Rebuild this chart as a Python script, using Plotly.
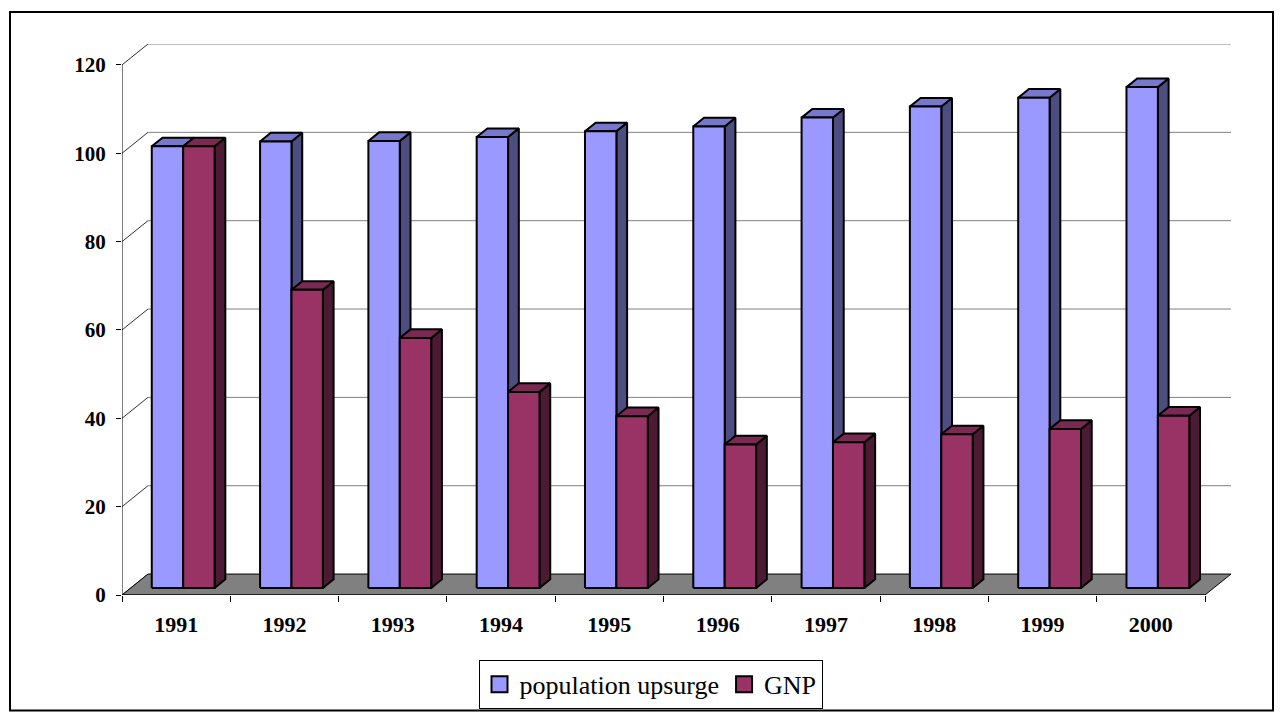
import plotly.graph_objects as go

years = ["1991", "1992", "1993", "1994", "1995", "1996", "1997", "1998", "1999", "2000"]
population_upsurge = [100, 101.1, 101.2, 102.1, 103.4, 104.5, 106.5, 109.0, 111.0, 113.4]
gnp = [100, 67.5, 56.6, 44.4, 38.9, 32.5, 33.0, 34.8, 36.0, 39.0]
y_ticks = [0, 20, 40, 60, 80, 100, 120]

# 3D projection parameters (in axis units)
N = len(years)
DX = 0.24      # depth offset, category units
DY = 4.74      # depth offset, value units
F0, F1 = 0.333, 0.746   # bar front/back as fraction of depth
BW = 0.29      # bar width
CENTER = 0.485

SERIF = "Liberation Serif"

fig = go.Figure()

def add_poly(xs, ys, fill, line_color="black", width=2):
    fig.add_trace(go.Scatter(x=xs, y=ys, mode="lines", fill="toself", fillcolor=fill,
                             line=dict(color=line_color, width=width),
                             hoverinfo="skip", showlegend=False))

def add_line(xs, ys, color, width=1):
    fig.add_trace(go.Scatter(x=xs, y=ys, mode="lines", line=dict(color=color, width=width),
                             hoverinfo="skip", showlegend=False))

# back wall gridlines and left wall diagonals
gx, gy = [], []
for v in y_ticks[1:]:
    gx += [DX, N + DX, None]
    gy += [v + DY, v + DY, None]
add_line(gx, gy, "#808080", 1)
dx_, dy_ = [], []
for v in y_ticks:
    dx_ += [0, DX, None]
    dy_ += [v, v + DY, None]
add_line(dx_, dy_, "#303030", 1)

# floor
add_poly([0, N, N + DX, DX, 0], [0, 0, DY, DY, 0], "#808080", "black", 1)

# axes lines
add_line([0, 0], [0, y_ticks[-1]], "black", 1)
add_line([0, N], [0, 0], "black", 1)

sx, sy = F0 * DX, F0 * DY
bx, by = (F1 - F0) * DX, (F1 - F0) * DY

def bar_polys(values, left_off):
    fx, fy, tx, ty, kx, ky = [], [], [], [], [], []
    for i, v in enumerate(values):
        xl = i + left_off + sx
        xr = xl + BW
        fx += [xl, xr, xr, xl, xl, None]
        fy += [sy, sy, v + sy, v + sy, sy, None]
        tx += [xl, xr, xr + bx, xl + bx, xl, None]
        ty += [v + sy, v + sy, v + sy + by, v + sy + by, v + sy, None]
        kx += [xr, xr + bx, xr + bx, xr, xr, None]
        ky += [sy, sy + by, v + sy + by, v + sy, sy, None]
    return (fx, fy), (tx, ty), (kx, ky)

series = [
    ("population upsurge", population_upsurge, CENTER - BW, "#9999FF", "#7777CC", "#4D4D80"),
    ("GNP", gnp, CENTER, "#993366", "#7A2952", "#4D1A33"),
]
for name, vals, off, cf, ct, cs in series:
    front, top, side = bar_polys(vals, off)
    add_poly(*side, cs)
    add_poly(*top, ct)
    add_poly(*front, cf)

# legend entries
for name, vals, off, cf, ct, cs in series:
    fig.add_trace(go.Scatter(x=[None], y=[None], mode="markers", name=name,
                             marker=dict(symbol="square", size=17, color=cf,
                                         line=dict(color="black", width=2))))

# page body has an 8px margin; figure pixel = screen pixel - 8
OFF = 8
W, H = 1282 - OFF, 721 - OFF
L, T = 122 - OFF, 44 - OFF
R = W - (1231 - OFF)
B = H - (597 - OFF)
pw, ph = W - L - R, H - T - B

def px(x):
    return (x - OFF - L) / pw

def py(y):
    return (H - B - (y - OFF)) / ph

fig.add_shape(type="rect", xref="paper", yref="paper",
              x0=px(10), x1=px(1273), y0=py(713), y1=py(12),
              line=dict(color="black", width=2))

fig.update_layout(
    width=W, height=H,
    margin=dict(l=L, r=R, t=T, b=B),
    paper_bgcolor="white", plot_bgcolor="white",
    font=dict(family=SERIF, color="black"),
    xaxis=dict(range=[0, N + DX], showgrid=False, zeroline=False, showline=False,
               tickvals=[i + 0.5 for i in range(N)], ticktext=years, ticks="",
               tickfont=dict(family=SERIF, size=22, weight="bold", color="black"),
               ticklabelstandoff=14,
               minor=dict(tickvals=list(range(N + 1)), ticks="outside", ticklen=6,
                          tickcolor="black", tickwidth=1),
               fixedrange=True),
    yaxis=dict(range=[0, y_ticks[-1] + DY], showgrid=False, zeroline=False, showline=False,
               tickvals=y_ticks, ticks="outside", ticklen=5, tickcolor="black",
               tickfont=dict(family=SERIF, size=21, weight="bold", color="black"),
               ticklabelstandoff=6, fixedrange=True),
    legend=dict(orientation="h", x=px(650.5), xanchor="center", y=py(662), yanchor="top",
                bordercolor="black", borderwidth=1, bgcolor="white",
                font=dict(family=SERIF, size=26, color="black")),
    showlegend=True,
)

fig.write_html("out.html")
